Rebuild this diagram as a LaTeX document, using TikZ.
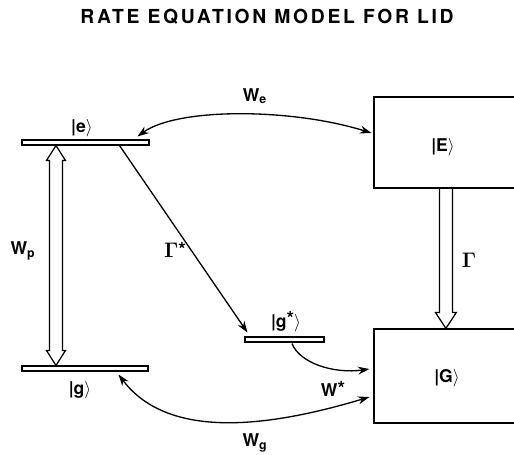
\documentclass[tikz,border=0pt]{standalone}
\usepackage[no-math]{fontspec}
\setmainfont{TeX Gyre Heros}
\usetikzlibrary{arrows.meta,calc}
\newcommand{\starsup}{\raisebox{1pt}{\fontsize{11}{11}\selectfont *}}

\begin{document}
\begin{tikzpicture}[x=0.02cm, y=-0.02cm,
  >={Stealth[length=6.5pt, width=4.5pt]},
  level/.style={draw, line width=0.6pt, inner sep=0pt, minimum height=0.1cm},
  state/.style={draw, line width=0.7pt, inner sep=0pt, minimum width=3.2cm},
  lbl/.style={inner sep=1pt, font=\fontsize{10}{12}\selectfont\bfseries},
  rate/.style={line width=0.75pt},
  hollow/.style={line width=0.7pt, line join=miter}]

% Frame (1 unit = 1 px, y downwards)
\useasboundingbox (0,0) rectangle (514,454);
\clip (0,0) rectangle (514,454);

% Parameters of the hollow arrows
\def\hw{9.5}   % head half width
\def\hl{15}    % head length
\def\sw{6.5}   % shaft half width

% Title
\node[lbl, font=\fontsize{11}{13}\selectfont\bfseries] (title) at (267,17)
    {\addfontfeature{LetterSpace=14}RATE EQUATION MODEL FOR LID};

% Levels
\node[level, minimum width=2.54cm] (e) at (85.5,142.5) {};
\node[level, minimum width=2.52cm] (g) at (85,368.5) {};
\node[level, minimum width=1.58cm] (gs) at (284.5,339.5) {};

% Substrate states
\node[state, minimum height=1.82cm] (E) at (454,142.5) {};
\node[state, minimum height=1.88cm] (G) at (454,376) {};

% State labels
\node[lbl] (el) at (82,128) {|e$\rangle$};
\node[lbl] (gl) at (80,390) {|g$\rangle$};
\node[lbl] (gsl) at (286,322) {|g\starsup$\rangle$};
\node[lbl] (El) at (443,147) {|E$\rangle$};
\node[lbl] (Gl) at (447,378) {|G$\rangle$};

% Pumping W_p
\coordinate (pt) at ([xshift=0.69cm]e.south west);
\coordinate (pb) at ([xshift=0.69cm]g.north west);
\draw[hollow] (pt) -- ($(pt)+(-\hw,\hl)$) -- ($(pt)+(-\sw,\hl)$)
    -- ($(pb)+(-\sw,-\hl)$) -- ($(pb)+(-\hw,-\hl)$) -- (pb)
    -- ($(pb)+(\hw,-\hl)$) -- ($(pb)+(\sw,-\hl)$)
    -- ($(pt)+(\sw,\hl)$) -- ($(pt)+(\hw,\hl)$) -- cycle;
\node[lbl] (Wp) at (23,251) {W\textsubscript{p}};

% Decay Gamma
\coordinate (Gt) at ([xshift=1.45cm]E.south west);
\coordinate (Gb) at ([xshift=1.45cm]G.north west);
\draw[hollow] ($(Gt)+(-\sw,0)$) -- ($(Gb)+(-\sw,-16)$) -- ($(Gb)+(-10.5,-16)$)
    -- (Gb) -- ($(Gb)+(10.5,-16)$) -- ($(Gb)+(\sw,-16)$) -- ($(Gt)+(\sw,0)$);
\node[lbl] (Gam) at (469,260) {\fontsize{12}{14}\selectfont$\mathbf{\Gamma}$};

% Decay Gamma*
\draw[rate,->] ([xshift=-0.6cm]e.south east) -- ([xshift=0.06cm,yshift=0.08cm]gs.north west);
\node[lbl] (Gst) at (175,250) {\fontsize{12}{14}\selectfont$\mathbf{\Gamma}$\starsup};

% Coupling W_e
\draw[rate,<->] ([xshift=-0.24cm,yshift=0.06cm]e.north east)
    .. controls +(40,-29) and +(-80,-25) .. ([xshift=-0.04cm,yshift=0.19cm]E.west);
\node[lbl] (We) at (255,96) {W\textsubscript{e}};

% Coupling W_g
\draw[rate,<->] ([xshift=-0.6cm,yshift=-0.06cm]g.south east)
    .. controls +(50,66) and +(-100,30) .. ([xshift=-0.08cm,yshift=-0.42cm]G.west);
\node[lbl] (Wg) at (255,443) {W\textsubscript{g}};

% Transfer W*
\draw[rate,->] ([xshift=0.15cm,yshift=-0.02cm]gs.south)
    .. controls +(8,20) and +(-35,5) .. ([xshift=-0.08cm,yshift=0.14cm]G.west);
\node[lbl] (Ws) at (333,389) {W\starsup};

\end{tikzpicture}
\end{document}
